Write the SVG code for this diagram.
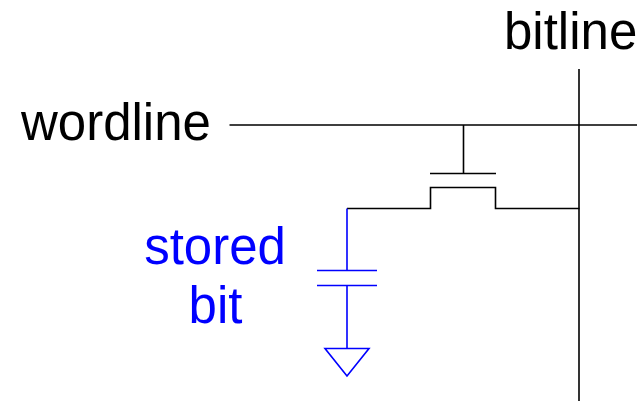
<svg xmlns="http://www.w3.org/2000/svg" width="639" height="401" viewBox="0 0 639 401">
<style>
text{font-family:"Liberation Sans",Arial,sans-serif;font-size:51px}
.w{fill:none;stroke:#000;stroke-width:1.6}
.b{fill:none;stroke:#0000ff;stroke-width:1.6}
</style>
<rect width="639" height="401" fill="#fff"/>
<g id="connectors">
<path class="w" d="M229.500 125H637M463.500 125V173M430 173.500H496M347 208.500H430.500V187.500H495.500V208.500H579.500"/>
<path class="w" d="M579 69V401"/>
<path class="b" d="M347 208.500V270.500M317 270.500H377M317 285.500H377M347 285.500V348M325 348.500H369L347 376Z"/>
</g>
<g id="bitline"><text x="504" y="49">bitline</text></g>
<g id="wordline"><text x="21" y="140">wordline</text></g>
<g id="stored-bit"><text x="215" y="264" text-anchor="middle" fill="#0000ff">stored</text><text x="215.500" y="323" text-anchor="middle" fill="#0000ff">bit</text></g>
</svg>
